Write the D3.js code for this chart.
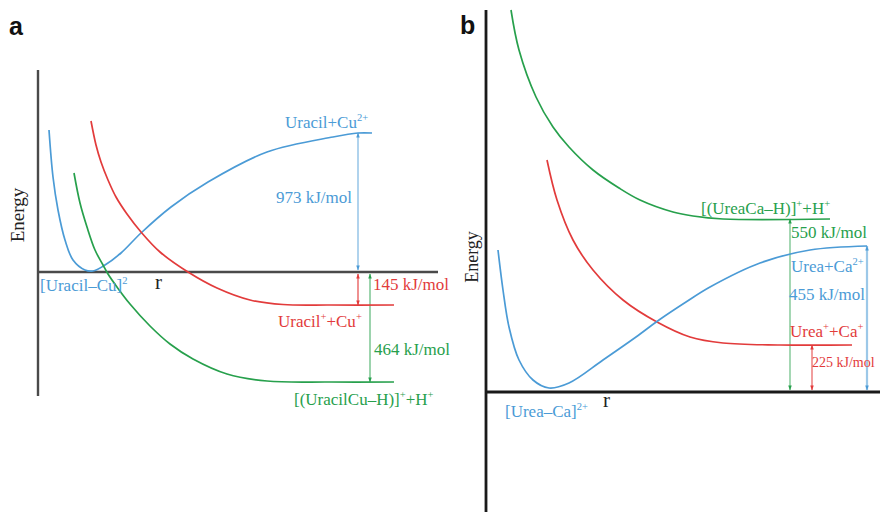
<!DOCTYPE html>
<html>
<head>
<meta charset="utf-8">
<script src="https://cdn.jsdelivr.net/npm/d3@7"></script>
<style>
  body { margin: 0; background: #fff; }
</style>
</head>
<body>
<svg id="chart" width="880" height="512"></svg>
<script>
// Colours used by both panels
const BLUE = "#4b9bd6", RED = "#e23b3b", GREEN = "#27a04c";
const SERIF = "'Liberation Serif', 'Times New Roman', serif";

// ---- Panel a : Uracil + Cu2+  (r and energy in arbitrary units, 0 = complex minimum)
const aBlueR  = [0.275, 0.375, 0.5, 0.675, 0.875, 1.175, 1.375, 1.675, 2.075, 2.575, 3.325, 4.25, 5.725, 7.375, 8.0, 8.35];
const aBlueE  = [14.2, 9.5, 6.2, 3.2, 1.2, 0.2, 0.1, 0.7, 1.9, 3.9, 6.5, 9.0, 12.0, 13.5, 13.9, 13.9];
const aRedR   = [1.325, 1.45, 1.575, 1.75, 1.95, 2.225, 2.575, 3.05, 3.75, 4.475, 5.3, 6.125, 7.3, 8.9];
const aRedE   = [15.1, 12.7, 11.0, 9.2, 7.5, 5.8, 4.0, 2.0, 0, -1.6, -2.8, -3.25, -3.3, -3.3];
const aGreenR = [0.9, 1.05, 1.225, 1.425, 1.625, 1.75, 1.975, 2.3, 2.8, 3.3, 3.875, 4.725, 5.725, 7.3, 8.9];
const aGreenE = [9.9, 6.9, 4.5, 2.2, 0.7, -0.2, -1.5, -3.2, -5.4, -7.2, -8.7, -10.2, -10.9, -11.0, -11.0];
const aArrowR = [8.0, 8.0, 8.3];
const aArrowE = [13.9, -3.3, -11.0];

// ---- Panel b : Urea + Ca2+
const bBlueR  = [0.3, 0.425, 0.575, 0.825, 1.175, 1.575, 2.075, 2.925, 3.75, 4.325, 5.0, 5.6, 6.85, 8.1, 9.525];
const bBlueE  = [14.2, 10.2, 6.5, 3.2, 1.2, 0.4, 0.9, 3.2, 5.5, 7.2, 9.0, 10.5, 12.9, 14.2, 14.6];
const bRedR   = [1.525, 1.775, 2.175, 2.675, 3.425, 4.275, 5.1, 5.925, 7.35, 9.15];
const bRedE   = [23.2, 19.2, 15.2, 12.2, 9.2, 7.0, 5.5, 4.9, 4.7, 4.7];
const bGreenR = [0.625, 0.825, 1.25, 1.675, 2.075, 2.675, 3.325, 3.85, 4.675, 5.175, 5.925, 8.6];
const bGreenE = [38.2, 34.2, 29.5, 26.5, 24.5, 22.2, 20.4, 19.2, 18.0, 17.6, 17.3, 17.3];
const bArrowR = [9.525, 8.15, 7.6];
const bArrowE = [14.6, 4.7, 17.3];

const svg = d3.select("#chart");

// small double-headed arrow markers, one per colour
const defs = svg.append("defs");
[["blue", BLUE], ["red", RED], ["green", GREEN]].forEach(([name, col]) => {
  defs.append("marker")
    .attr("id", "head-" + name)
    .attr("viewBox", "0 0 10 10")
    .attr("refX", 9).attr("refY", 5)
    .attr("markerUnits", "userSpaceOnUse")
    .attr("markerWidth", 6).attr("markerHeight", 5)
    .attr("orient", "auto-start-reverse")
    .append("path").attr("d", "M0,1.5 L10,5 L0,8.5 Z").attr("fill", col);
});

const zip = (rs, es) => rs.map((r, i) => [r, es[i]]);

// writes a label; parts = [[text, isSuperscript], ...]
function label(g, x, y, parts, col, size, anchor) {
  const t = g.append("text")
    .attr("x", x).attr("y", y)
    .attr("fill", col)
    .style("font-family", SERIF)
    .attr("font-size", size)
    .attr("text-anchor", anchor || "start");
  let up = false;
  parts.forEach(([s, sup]) => {
    const span = t.append("tspan").text(s);
    if (sup) span.attr("font-size", size * 0.62);
    if (sup && !up) { span.attr("dy", -size * 0.4); up = true; }
    else if (!sup && up) { span.attr("dy", size * 0.4); up = false; }
  });
  return t;
}

function drawPanel(p) {
  const g = svg.append("g");
  const x = d3.scaleLinear().domain(p.rDomain).range(p.xRange);
  const y = d3.scaleLinear().domain(p.eDomain).range(p.yRange);

  const line = d3.line()
    .x(d => x(d[0])).y(d => y(d[1]))
    .curve(d3.curveCatmullRom.alpha(0.5));

  // axes: plain lines, no ticks
  g.append("line")
    .attr("x1", x(0)).attr("x2", x(0))
    .attr("y1", p.yRange[1]).attr("y2", p.yRange[0])
    .attr("stroke", p.axisColor).attr("stroke-width", p.axisWidth);
  g.append("line")
    .attr("x1", x(0)).attr("x2", p.xRange[1])
    .attr("y1", y(0)).attr("y2", y(0))
    .attr("stroke", p.axisColor).attr("stroke-width", p.axisWidth);

  // arrows (drawn before curves so the curves sit on top)
  p.arrows.forEach(a => {
    g.append("line")
      .attr("x1", x(a.r)).attr("x2", x(a.r))
      .attr("y1", y(0) + (a.e > 0 ? -2 : 2)).attr("y2", y(a.e))
      .attr("stroke", a.col).attr("stroke-opacity", a.op || 0.8)
      .attr("stroke-width", a.w || 1.1)
      .attr("marker-start", `url(#head-${a.name})`)
      .attr("marker-end", `url(#head-${a.name})`);
  });

  p.curves.forEach(c => {
    g.append("path")
      .datum(c.pts)
      .attr("d", line)
      .attr("fill", "none")
      .attr("stroke", c.col)
      .attr("stroke-width", 1.7);
  });

  // axis titles
  g.append("text")
    .attr("transform", `translate(${p.energyX},${p.energyY}) rotate(-90)`)
    .attr("text-anchor", "middle")
    .style("font-family", SERIF)
    .attr("font-size", p.energySize)
    .attr("fill", "#222")
    .text("Energy");
  label(g, x(p.rLabel[0]), y(p.rLabel[1]), [["r"]], "#222", 21);

  p.labels.forEach(l => label(g, x(l.at[0]), y(l.at[1]), l.parts, l.col, l.size || 17, l.anchor));

  g.append("text")
    .attr("x", p.letterX).attr("y", p.letterY)
    .style("font-family", "'Liberation Sans', Arial, sans-serif")
    .attr("font-weight", "bold")
    .attr("font-size", 25)
    .attr("fill", "#111")
    .text(p.letter);
}

drawPanel({
  letter: "a", letterX: 9, letterY: 35,
  rDomain: [0, 10], xRange: [38, 438],
  eDomain: [-12.4, 20.2], yRange: [396, 70],
  axisColor: "#4a4a4a", axisWidth: 2.4,
  energyX: 24, energyY: 215, energySize: 19,
  rLabel: [2.925, -1.7],
  curves: [
    { pts: zip(aBlueR, aBlueE), col: BLUE },
    { pts: zip(aRedR, aRedE), col: RED },
    { pts: zip(aGreenR, aGreenE), col: GREEN }
  ],
  arrows: [
    { r: aArrowR[0], e: aArrowE[0], col: BLUE, name: "blue" },
    { r: aArrowR[1], e: aArrowE[1], col: RED, name: "red", w: 1.6, op: 0.7 },
    { r: aArrowR[2], e: aArrowE[2], col: GREEN, name: "green", w: 1.3, op: 0.7 }
  ],
  labels: [
    { at: [6.175, 14.4], col: BLUE, parts: [["Uracil+Cu"], ["2+", true]] },
    { at: [7.85, 6.9], col: BLUE, anchor: "end", parts: [["973 kJ/mol"]] },
    { at: [0.05, -1.9], col: BLUE, parts: [["[Uracil\u2013Cu]"], ["2", true]] },
    { at: [8.375, -1.8], col: RED, parts: [["145 kJ/mol"]] },
    { at: [6.0, -5.5], col: RED, parts: [["Uracil"], ["+", true], ["+Cu"], ["+", true]] },
    { at: [8.4, -8.3], col: GREEN, parts: [["464 kJ/mol"]] },
    { at: [6.4, -13.3], col: GREEN, parts: [["[(UracilCu\u2013H)]"], ["+", true], ["+H"], ["+", true]] }
  ]
});

drawPanel({
  letter: "b", letterX: 460, letterY: 34,
  rDomain: [0, 9.85], xRange: [486, 880],
  eDomain: [-12, 38.2], yRange: [512, 10],
  axisColor: "#1a1a1a", axisWidth: 2.8,
  energyX: 478, energyY: 257, energySize: 18,
  rLabel: [2.925, -1.5],
  curves: [
    { pts: zip(bGreenR, bGreenE), col: GREEN },
    { pts: zip(bRedR, bRedE), col: RED },
    { pts: zip(bBlueR, bBlueE), col: BLUE }
  ],
  arrows: [
    { r: bArrowR[0], e: bArrowE[0], col: BLUE, name: "blue", w: 2.2, op: 0.55 },
    { r: bArrowR[1], e: bArrowE[1], col: RED, name: "red", w: 1.4, op: 0.7 },
    { r: bArrowR[2], e: bArrowE[2], col: GREEN, name: "green", w: 1.2, op: 0.7 }
  ],
  labels: [
    { at: [5.375, 17.8], col: GREEN, parts: [["[(UreaCa\u2013H)]"], ["+", true], ["+H"], ["+", true]] },
    { at: [7.625, 15.4], col: GREEN, parts: [["550 kJ/mol"]] },
    { at: [7.625, 12.0], col: BLUE, parts: [["Urea+Ca"], ["2+", true]] },
    { at: [7.575, 9.2], col: BLUE, parts: [["455 kJ/mol"]] },
    { at: [7.6, 5.5], col: RED, parts: [["Urea"], ["+", true], ["+Ca"], ["+", true]] },
    { at: [8.15, 2.5], col: RED, size: 14, parts: [["225 kJ/mol"]] },
    { at: [0.475, -2.5], col: BLUE, parts: [["[Urea\u2013Ca]"], ["2+", true]] }
  ]
});
</script>
</body>
</html>
